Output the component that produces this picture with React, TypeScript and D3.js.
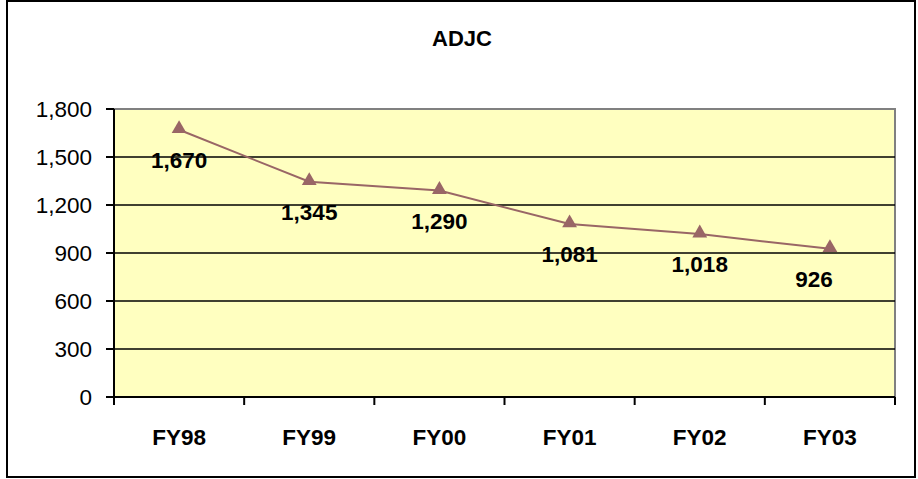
import React from "react";
import * as d3 from "d3";

const categories = ["FY98", "FY99", "FY00", "FY01", "FY02", "FY03"];
const values = [1670, 1345, 1290, 1081, 1018, 926];
const yTicks = [0, 300, 600, 900, 1200, 1500, 1800];
const title = "ADJC";

const W = 918;
const H = 479;
const M = { left: 114, right: 895, top: 109, bottom: 397 };
const FONT = "'Liberation Sans', Arial, sans-serif";

export default function App() {
  const x = d3.scaleBand<string>().domain(categories).range([M.left, M.right]);
  const y = d3.scaleLinear().domain([0, 1800]).range([M.bottom, M.top]);
  const fmt = d3.format(",");
  const line = d3
    .line<number>()
    .x((_, i) => (x(categories[i]) as number) + x.bandwidth() / 2)
    .y((d) => y(d));
  const tri = d3.symbol().type(d3.symbolTriangle).size(95)();
  const boundaries = categories.map((c) => x(c) as number).concat([M.right]);

  return (
    <svg
      width={W}
      height={H}
      style={{ position: "absolute", left: 0, top: 0, background: "#fff" }}
      fontFamily={FONT}
    >
      <rect x={7} y={1} width={908} height={476} fill="#fff" stroke="#000" strokeWidth={2} />
      <text x={462} y={46} textAnchor="middle" fontWeight="bold" fontSize={22}>
        {title}
      </text>
      <rect
        x={M.left}
        y={M.top}
        width={M.right - M.left}
        height={M.bottom - M.top}
        fill="#FFFFC0"
        stroke="#808080"
        strokeWidth={2}
      />
      {yTicks.filter((t) => t > 0 && t < 1800).map((t) => (
        <line key={t} x1={M.left} x2={M.right} y1={y(t)} y2={y(t)} stroke="#000" strokeWidth={1.5} />
      ))}
      <line x1={M.left} x2={M.left} y1={M.top} y2={M.bottom} stroke="#000" strokeWidth={2} />
      <line x1={M.left} x2={M.right} y1={M.bottom} y2={M.bottom} stroke="#000" strokeWidth={2} />
      {yTicks.map((t) => (
        <g key={t}>
          <line x1={106} x2={M.left} y1={y(t)} y2={y(t)} stroke="#000" strokeWidth={2} />
          <text x={92} y={y(t)} dy="0.36em" textAnchor="end" fontSize={22.5}>
            {fmt(t)}
          </text>
        </g>
      ))}
      {boundaries.map((b, i) => (
        <line key={i} x1={b} x2={b} y1={M.bottom} y2={M.bottom + 8} stroke="#000" strokeWidth={2} />
      ))}
      {categories.map((c) => (
        <text
          key={c}
          x={(x(c) as number) + x.bandwidth() / 2}
          y={437}
          dy="0.36em"
          textAnchor="middle"
          fontWeight="bold"
          fontSize={22.5}
        >
          {c}
        </text>
      ))}
      <path d={line(values) || ""} fill="none" stroke="#996666" strokeWidth={2} />
      {values.map((v, i) => {
        const cx = (x(categories[i]) as number) + x.bandwidth() / 2;
        return (
          <g key={i}>
            <path d={tri || ""} transform={`translate(${cx},${y(v) - 1})`} fill="#996666" />
            <text
              x={i === values.length - 1 ? cx - 16 : cx}
              y={y(v) + 30}
              dy="0.36em"
              textAnchor="middle"
              fontWeight="bold"
              fontSize={22.5}
            >
              {fmt(v)}
            </text>
          </g>
        );
      })}
    </svg>
  );
}
